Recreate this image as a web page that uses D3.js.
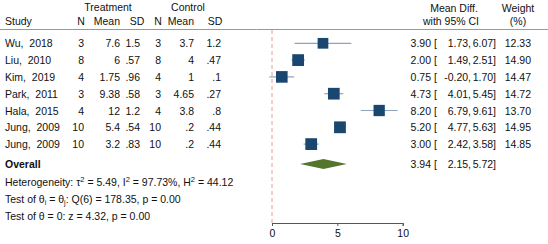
<!DOCTYPE html>
<html>
<head>
<meta charset="UTF-8">
<script src="https://cdn.jsdelivr.net/npm/d3@7"></script>
<style>
  body { margin: 0; background: #fff; }
  svg text { font-family: "Liberation Sans", Arial, sans-serif; font-size: 10.5px; fill: #111; }
</style>
</head>
<body>
<svg id="vis" width="548" height="244"></svg>
<script>
// data
const studies = ["Wu, 2018", "Liu, 2010", "Kim, 2019", "Park, 2011", "Hala, 2015", "Jung, 2009", "Jung, 2009"];
const trtN = ["3", "8", "4", "3", "4", "10", "10"];
const trtMean = ["7.6", "6", "1.75", "9.38", "12", "5.4", "3.2"];
const trtSD = ["1.5", ".57", ".96", ".58", "1.2", ".54", ".83"];
const ctlN = ["3", "8", "4", "3", "4", "10", "10"];
const ctlMean = ["3.7", "4", "1", "4.65", "3.8", ".2", ".2"];
const ctlSD = ["1.2", ".47", ".1", ".27", ".8", ".44", ".44"];
const effect = [3.90, 2.00, 0.75, 4.73, 8.20, 5.20, 3.00];
const lower = [1.73, 1.49, -0.20, 4.01, 6.79, 4.77, 2.42];
const upper = [6.07, 2.51, 1.70, 5.45, 9.61, 5.63, 3.58];
const weight = [12.33, 14.90, 14.47, 14.72, 13.70, 14.95, 14.85];
const overall = { est: 3.94, lo: 2.15, hi: 5.72 };
const xTicks = [0, 5, 10];

const svg = d3.select("#vis");

const x = d3.scaleLinear().domain([0, 10]).range([272, 402.7]);
const y = d3.scalePoint().domain(d3.range(studies.length)).range([43.3, 144.1]);
const yOverall = 164;
const yAxis = 223;

function txt(xp, yp, s, anchor, extra) {
  const t = svg.append("text").attr("x", xp).attr("y", yp).attr("text-anchor", anchor || "start").text(s);
  if (extra) extra(t);
  return t;
}

// header
txt(108, 11, "Treatment", "middle");
txt(188, 11, "Control", "middle");
txt(5, 25, "Study");
txt(81, 25, "N", "middle");
txt(120, 25, "Mean", "end");
txt(137, 25, "SD", "middle");
txt(158, 25, "N", "middle");
txt(194, 25, "Mean", "end");
txt(215, 25, "SD", "middle");
txt(454, 12, "Mean Diff.", "middle");
txt(451, 25, "with 95% CI", "middle");
txt(518, 12, "Weight", "middle");
txt(518, 25, "(%)", "middle");

svg.append("line").attr("x1", 0).attr("x2", 548).attr("y1", 29.5).attr("y2", 29.5)
  .attr("stroke", "#999").attr("stroke-width", 1);

// zero line
svg.append("line").attr("x1", x(0)).attr("x2", x(0)).attr("y1", 30).attr("y2", yAxis)
  .attr("stroke", "#e89a9a").attr("stroke-width", 1).attr("stroke-dasharray", "4,3");

// rows
const rows = svg.append("g").selectAll("g").data(studies).join("g");
rows.each(function (s, i) {
  const g = d3.select(this);
  const by = y(i) + 4;
  const cols = [
    [5, s.replace(", ", ",\u00a0 "), "start"], [84, trtN[i], "end"], [120, trtMean[i], "end"], [140, trtSD[i], "end"],
    [161, ctlN[i], "end"], [194, ctlMean[i], "end"], [221, ctlSD[i], "end"],
    [431, effect[i].toFixed(2), "end"], [434, "[", "start"],
    [471, lower[i].toFixed(2) + ",", "end"], [496, upper[i].toFixed(2) + "]", "end"],
    [531, weight[i].toFixed(2), "end"]
  ];
  cols.forEach(c => g.append("text").attr("x", c[0]).attr("y", by).attr("text-anchor", c[2]).text(c[1]));

  g.append("line").attr("x1", x(lower[i])).attr("x2", x(upper[i])).attr("y1", y(i)).attr("y2", y(i))
    .attr("stroke", "#8fa3ba").attr("stroke-width", 1.2);
  const side = 3.05 * Math.sqrt(weight[i]);
  g.append("rect").attr("x", x(effect[i]) - side / 2).attr("y", y(i) - side / 2)
    .attr("width", side).attr("height", side).attr("fill", "#1a476f");
});

// overall
txt(5, yOverall + 4, "Overall", "start", t => t.style("font-weight", "bold"));
svg.append("path")
  .attr("d", `M${x(overall.lo)},${yOverall} L${x(overall.est)},${yOverall - 5} L${x(overall.hi)},${yOverall} L${x(overall.est)},${yOverall + 5} Z`)
  .attr("fill", "#55752f");
txt(431, yOverall + 4, overall.est.toFixed(2), "end");
txt(434, yOverall + 4, "[");
txt(471, yOverall + 4, overall.lo.toFixed(2) + ",", "end");
txt(496, yOverall + 4, overall.hi.toFixed(2) + "]", "end");

// statistics
const het = svg.append("text").attr("x", 5).attr("y", 186);
het.append("tspan").text("Heterogeneity: τ");
het.append("tspan").attr("dy", -4).style("font-size", "7.5px").text("2");
het.append("tspan").attr("dy", 4).text(" = 5.49, I");
het.append("tspan").attr("dy", -4).style("font-size", "7.5px").text("2");
het.append("tspan").attr("dy", 4).text(" = 97.73%, H");
het.append("tspan").attr("dy", -4).style("font-size", "7.5px").text("2");
het.append("tspan").attr("dy", 4).text(" = 44.12");

const q = svg.append("text").attr("x", 5).attr("y", 203);
q.append("tspan").text("Test of θ");
q.append("tspan").attr("dy", 2).style("font-size", "7px").text("i");
q.append("tspan").attr("dy", -2).text(" = θ");
q.append("tspan").attr("dy", 2).style("font-size", "7px").text("j");
q.append("tspan").attr("dy", -2).text(": Q(6) = 178.35, p = 0.00");

txt(5, 220, "Test of θ = 0: z = 4.32, p = 0.00");

// axis
const ax = svg.append("g").attr("transform", `translate(0,${yAxis})`)
  .call(d3.axisBottom(x).tickValues(xTicks).tickFormat(d3.format("d")).tickSizeOuter(0).tickSize(3));
ax.select(".domain").attr("stroke", "#555");
ax.selectAll(".tick line").attr("stroke", "#555");
ax.selectAll(".tick text").attr("dy", 0).attr("y", 14).style("font-size", "10.5px")
  .style("font-family", "'Liberation Sans', Arial, sans-serif").attr("fill", "#111");
</script>
</body>
</html>
